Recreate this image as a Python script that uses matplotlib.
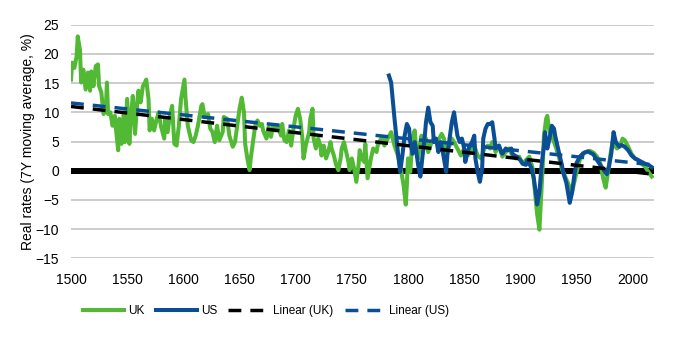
import matplotlib
matplotlib.use("Agg")
import matplotlib.pyplot as plt
from matplotlib import font_manager

# ---------------- data ----------------
uk_years = [1500, 1501, 1503, 1505, 1506, 1508, 1509, 1511, 1513, 1515, 1517, 1518, 1520, 1522, 1524,
            1525, 1527, 1529, 1531, 1532, 1533, 1535, 1537, 1539, 1540, 1542, 1543, 1545, 1547, 1548,
            1550, 1552, 1553, 1555, 1557, 1559, 1560, 1562, 1564, 1565, 1567, 1569, 1570, 1572, 1574,
            1576, 1578, 1580, 1583, 1584, 1586, 1588, 1590, 1592, 1594, 1596, 1598, 1601, 1602, 1604,
            1607, 1609, 1611, 1613, 1616, 1617, 1619, 1622, 1624, 1626, 1628, 1630, 1632, 1635, 1636,
            1639, 1641, 1644, 1646, 1648, 1650, 1652, 1654, 1655, 1657, 1659, 1660, 1662, 1664, 1666,
            1668, 1670, 1671, 1674, 1676, 1678, 1680, 1682, 1684, 1687, 1688, 1690, 1692, 1694, 1696,
            1698, 1700, 1702, 1704, 1706, 1707, 1709, 1712, 1713, 1715, 1716, 1718, 1720, 1722, 1723,
            1725, 1727, 1729, 1731, 1732, 1734, 1736, 1738, 1740, 1741, 1743, 1745, 1747, 1748, 1750,
            1752, 1754, 1756, 1757, 1759, 1761, 1762, 1764, 1766, 1767, 1769, 1772, 1773, 1776, 1778,
            1779, 1782, 1785, 1788, 1791, 1793, 1796, 1798, 1799, 1800, 1802, 1804, 1806, 1807, 1809,
            1810, 1812, 1814, 1816, 1818, 1821, 1823, 1826, 1830, 1832, 1834, 1837, 1839, 1841, 1844,
            1847, 1850, 1853, 1856, 1859, 1862, 1865, 1868, 1871, 1873, 1875, 1878, 1881, 1884, 1887,
            1890, 1893, 1896, 1899, 1902, 1905, 1908, 1911, 1913, 1915, 1917, 1918, 1920, 1921, 1923,
            1924, 1926, 1928, 1930, 1932, 1934, 1937, 1941, 1946, 1950, 1953, 1957, 1962, 1965, 1968,
            1971, 1974, 1976, 1978, 1980, 1982, 1984, 1986, 1989, 1991, 1993, 1996, 1999, 2002, 2005,
            2008, 2011, 2014, 2017]
uk_values = [15.6, 18.5, 17.6, 19.6, 23.0, 20.7, 15.1, 17.3, 13.9, 16.8, 13.7, 17.0, 14.5, 17.9, 18.2,
             14.5, 13.4, 9.7, 10.6, 15.1, 9.7, 10.0, 7.7, 9.4, 7.2, 3.5, 8.9, 4.6, 10.0, 4.9,
             12.3, 4.6, 8.3, 12.8, 6.3, 11.7, 13.7, 11.7, 14.5, 14.8, 15.6, 12.3, 6.9, 8.9, 6.9,
             8.6, 10.0, 7.7, 5.5, 8.9, 6.6, 9.4, 11.1, 4.6, 4.3, 7.7, 12.3, 15.6, 12.3, 7.7,
             5.2, 4.9, 6.0, 7.7, 11.1, 11.4, 9.2, 9.7, 7.2, 6.6, 4.9, 7.7, 5.2, 6.6, 9.2,
             8.9, 6.0, 4.1, 4.9, 7.7, 10.6, 12.5, 10.0, 4.6, 2.1, 0.1, 2.1, 4.9, 7.7, 8.6,
             7.7, 8.0, 6.9, 5.5, 7.5, 5.8, 7.7, 6.9, 7.7, 6.0, 8.0, 5.2, 4.9, 6.9, 4.3,
             7.2, 9.4, 10.6, 8.9, 5.5, 2.1, 4.3, 6.6, 8.9, 10.6, 5.5, 3.8, 5.5, 4.3, 2.6,
             4.3, 2.1, 3.2, 4.9, 3.8, 2.6, 1.0, 0.1, 2.1, 3.8, 4.9, 3.2, 1.5, 0.1, 2.1,
             0.4, -1.9, 1.0, 3.5, 2.1, 1.5, 4.6, -1.3, 1.0, 2.1, 3.8, 3.2, 4.3, 5.5, 5.8,
             4.3, 5.5, 6.6, 4.3, 2.6, 1.0, -2.4, -5.8, -2.4, 2.1, -0.2, 5.5, 6.9, 4.3, 2.1,
             3.8, 6.0, 4.3, 5.5, 3.2, 4.9, 5.5, 4.9, 6.3, 5.5, 3.2, 4.3, 5.5, 4.9, 3.8,
             2.6, 3.8, 2.6, 3.2, 4.3, 2.6, 2.1, 3.8, 4.3, 3.8, 4.9, 3.2, 4.3, 2.4, 3.2,
             3.8, 2.6, 2.1, 2.4, 1.2, 1.8, 2.4, 0.4, -3.6, -7.5, -10.1, -6.4, 1.0, 6.0, 8.9,
             9.4, 6.6, 6.0, 4.9, 3.8, 2.6, 0.3, -1.5, -3.7, -0.3, 1.9, 3.1, 3.4, 3.1, 2.5,
             1.4, -1.5, -2.9, -0.3, 2.5, 4.9, 4.3, 3.8, 4.3, 5.5, 5.2, 4.1, 2.9, 2.1, 1.8,
             1.2, 0.7, -0.2, -1.0]

us_years = [1783, 1785, 1788, 1791, 1793, 1795, 1797, 1799, 1801, 1802, 1804, 1806, 1807, 1809, 1811,
            1813, 1815, 1816, 1818, 1820, 1822, 1823, 1825, 1827, 1829, 1831, 1834, 1835, 1837, 1839,
            1841, 1842, 1844, 1846, 1848, 1850, 1851, 1853, 1855, 1857, 1859, 1860, 1862, 1864, 1866,
            1867, 1869, 1871, 1873, 1875, 1877, 1878, 1881, 1883, 1884, 1887, 1889, 1892, 1893, 1895,
            1897, 1900, 1902, 1905, 1906, 1908, 1910, 1912, 1914, 1915, 1917, 1919, 1921, 1922, 1924,
            1926, 1928, 1930, 1931, 1933, 1935, 1937, 1938, 1941, 1944, 1946, 1948, 1950, 1953, 1956,
            1960, 1965, 1969, 1974, 1977, 1979, 1981, 1983, 1985, 1988, 1990, 1993, 1996, 1999, 2002,
            2005, 2008, 2011, 2014, 2017]
us_values = [16.3, 15.1, 8.9, 3.2, -0.2, 2.6, 6.0, 8.0, 7.2, 4.9, 2.9, 4.9, 3.8, 1.0, -1.0,
             2.6, 6.0, 8.3, 10.8, 8.3, 7.7, 4.9, 5.5, 3.2, 4.9, 3.2, -0.2, 2.6, 5.5, 8.3,
             10.0, 8.6, 6.0, 4.9, 5.5, 3.8, 1.5, 3.2, 4.3, 4.9, 6.0, 2.1, -0.2, -1.9, 0.4,
             5.5, 7.2, 8.0, 8.0, 8.3, 5.5, 3.8, 4.3, 3.2, 2.9, 3.8, 3.5, 3.8, 2.9, 2.6,
             2.4, 1.8, 1.2, 1.0, 1.8, 1.2, 0.4, -1.3, -4.1, -5.8, -3.6, 1.0, 4.3, 6.6, 3.8,
             5.5, 7.7, 7.2, 6.0, 4.3, 2.6, 1.0, -0.2, -2.1, -5.5, -3.8, -0.9, 1.3, 2.4, 3.0,
             3.3, 2.8, 1.6, 0.2, -0.6, 0.8, 3.0, 6.6, 4.9, 4.1, 4.4, 4.1, 3.5, 2.6, 2.1,
             1.8, 1.5, 1.2, 1.0, 0.6]

trend_years = [1500, 2018]
uk_trend = [11.0, -0.6]
us_trend = [11.6, 1.0]

x_ticks = list(range(1500, 2001, 50))
y_ticks = list(range(-15, 26, 5))
legend_labels = ["UK", "US", "Linear (UK)", "Linear (US)"]
y_label = "Real rates (7Y moving average, %)"

# ---------------- style ----------------
GREEN = "#52B935"
BLUE = "#0A4F96"

plt.rcParams["font.family"] = ["Liberation Sans", "DejaVu Sans"]

fig = plt.figure(figsize=(6.75, 3.39), dpi=100)
ax = fig.add_axes([71 / 675, (339 - 258.3) / 339, 583 / 675, (258.3 - 24.7) / 339])

ax.set_xlim(1500, 2019)
ax.set_ylim(-15, 25)
ax.set_xticks(x_ticks)
ax.set_yticks(y_ticks)
ax.grid(axis="y", color="#BFBFBF", linewidth=1.1, zorder=0)
ax.set_axisbelow(True)
for s in ax.spines.values():
    s.set_visible(False)
ax.tick_params(axis="both", length=0, labelsize=10, colors="#000000")
ax.tick_params(axis="x", pad=10.5)
ax.tick_params(axis="y", pad=8.5)

ax.axhline(0, color="black", linewidth=4.3, zorder=1)

l_uk, = ax.plot(uk_years, uk_values, color=GREEN, lw=2.9, zorder=2, solid_joinstyle="round")
l_us, = ax.plot(us_years, us_values, color=BLUE, lw=2.9, zorder=3, solid_joinstyle="round")
l_ukt, = ax.plot(trend_years, uk_trend, color="black", lw=2.5, ls=(0, (3.7, 2.6)), zorder=4)
l_ust, = ax.plot(trend_years, us_trend, color=BLUE, lw=2.5, ls=(0, (3.7, 2.6)), zorder=4)

ax.set_ylabel(y_label, fontsize=10)
ax.yaxis.set_label_coords(-0.062, 0.5)

fig.legend([l_uk, l_us, l_ukt, l_ust], legend_labels, loc="center",
           bbox_to_anchor=(266.5 / 675, 1 - 311 / 339), ncol=4, frameon=False,
           prop={"family": "Liberation Sans", "size": 8.5},
           handlelength=3.45, handletextpad=0.35, columnspacing=0.95)

fig.savefig("out.png", dpi=100)
